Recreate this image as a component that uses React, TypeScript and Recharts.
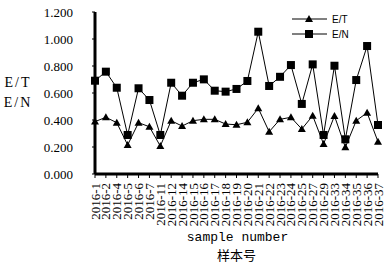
import React from "react";
import { LineChart, Line, XAxis, YAxis, Legend } from "recharts";

const SAMPLES = [
  "2016-1", "2016-2", "2016-4", "2016-5", "2016-6", "2016-7", "2016-11",
  "2016-12", "2016-14", "2016-15", "2016-16", "2016-17", "2016-18", "2016-19",
  "2016-20", "2016-21", "2016-22", "2016-23", "2016-24", "2016-25", "2016-27",
  "2016-29", "2016-33", "2016-34", "2016-35", "2016-36", "2016-37",
];

const ET_VALUES = [
  0.388, 0.42, 0.38, 0.215, 0.38, 0.35, 0.207, 0.395, 0.355, 0.395, 0.405,
  0.405, 0.37, 0.365, 0.383, 0.487, 0.313, 0.405, 0.42, 0.333, 0.432, 0.222,
  0.43, 0.198, 0.395, 0.454, 0.239,
];

const EN_VALUES = [
  0.691, 0.758, 0.639, 0.289, 0.635, 0.548, 0.289, 0.676, 0.58, 0.676, 0.701,
  0.617, 0.61, 0.63, 0.689, 1.054, 0.652, 0.72, 0.807, 0.519, 0.812, 0.289,
  0.802, 0.257, 0.696, 0.948, 0.363,
];

const Y_TICKS = [0, 0.2, 0.4, 0.6, 0.8, 1.0, 1.2];

const data = SAMPLES.map((name, i) => ({
  name,
  et: ET_VALUES[i],
  en: EN_VALUES[i],
}));

const SERIF = "Liberation Serif";

const renderSquare = (props: any) => {
  const { cx, cy, index } = props;
  return <rect key={`sq-${index}`} x={cx - 4} y={cy - 4} width={8} height={8} fill="#000" />;
};

const renderTriangle = (props: any) => {
  const { cx, cy, index } = props;
  return (
    <polygon
      key={`tr-${index}`}
      points={`${cx},${cy - 4} ${cx - 4},${cy + 3} ${cx + 4},${cy + 3}`}
      fill="#000"
    />
  );
};

// rotated sample labels, reading bottom to top
const SampleTick = (props: any) => {
  const { x, y, payload } = props;
  const ty = y + 3;
  return (
    <text
      x={x}
      y={ty}
      dy="0.35em"
      textAnchor="end"
      transform={`rotate(-90 ${x} ${ty})`}
      style={{ fontFamily: SERIF, fontSize: 13 }}
      fill="#000"
    >
      {payload.value}
    </text>
  );
};

const ValueTick = (props: any) => {
  const { x, y, payload } = props;
  return (
    <text
      x={x}
      y={y}
      dy="0.35em"
      textAnchor="end"
      style={{ fontFamily: SERIF, fontSize: 13 }}
      fill="#000"
    >
      {Number(payload.value).toFixed(3)}
    </text>
  );
};

const renderXTitle = (props: any) => {
  const { viewBox } = props;
  const cx = viewBox.x + viewBox.width / 2;
  return (
    <g>
      <text
        x={cx + 1}
        y={viewBox.y + 62}
        dy="0.35em"
        textAnchor="middle"
        style={{ fontFamily: "Liberation Mono", fontSize: 13 }}
        fill="#000"
      >
        sample number
      </text>
      <text
        x={cx}
        y={viewBox.y + 81}
        dy="0.35em"
        textAnchor="middle"
        style={{ fontFamily: "Noto Sans CJK SC", fontSize: 13 }}
        fill="#000"
      >
        样本号
      </text>
    </g>
  );
};

const renderYTitle = () => (
  <g style={{ fontFamily: SERIF, fontSize: 14 }} fill="#000">
    <text x={18} y={82} dy="0.35em" textAnchor="middle" letterSpacing={2}>
      E/T
    </text>
    <text x={18} y={102} dy="0.35em" textAnchor="middle" letterSpacing={2}>
      E/N
    </text>
  </g>
);

const renderLegend = () => (
  <svg width={70} height={34}>
    <g style={{ fontFamily: "Liberation Sans", fontSize: 10 }} fill="#000">
      <line x1={2} y1={9} x2={37} y2={9} stroke="#000" strokeWidth={1} />
      <polygon points="19,5 15,12 23,12" fill="#000" />
      <text x={42} y={9} dy="0.35em">E/T</text>
      <line x1={2} y1={24} x2={37} y2={24} stroke="#000" strokeWidth={1} />
      <rect x={15} y={20} width={8} height={8} fill="#000" />
      <text x={42} y={24} dy="0.35em">E/N</text>
    </g>
  </svg>
);

export default function App() {
  return (
    <div style={{ position: "absolute", left: 0, top: 0, background: "#fff" }}>
      <LineChart
        width={392}
        height={263}
        data={data}
        margin={{ top: 12, right: 14, left: 0, bottom: 0 }}
      >
        <XAxis
          dataKey="name"
          interval={0}
          height={89}
          tick={<SampleTick />}
          tickSize={4}
          tickLine={{ stroke: "#000", strokeWidth: 1 }}
          axisLine={{ stroke: "#000", strokeWidth: 3 }}
          label={{ content: renderXTitle }}
        />
        <YAxis
          width={95}
          domain={[0, 1.2]}
          ticks={Y_TICKS}
          tick={<ValueTick />}
          tickSize={3}
          tickMargin={19}
          tickLine={{ stroke: "#000", strokeWidth: 1 }}
          axisLine={{ stroke: "#000", strokeWidth: 3 }}
          label={{ content: renderYTitle }}
        />
        <Legend
          layout="vertical"
          align="center"
          verticalAlign="middle"
          content={renderLegend}
          wrapperStyle={{ position: "absolute", left: 290, top: 10, width: 70, height: 34 }}
        />
        <Line
          dataKey="en"
          stroke="#000"
          strokeWidth={1}
          dot={renderSquare}
          activeDot={false}
          isAnimationActive={false}
        />
        <Line
          dataKey="et"
          stroke="#000"
          strokeWidth={1}
          dot={renderTriangle}
          activeDot={false}
          isAnimationActive={false}
        />
      </LineChart>
    </div>
  );
}
